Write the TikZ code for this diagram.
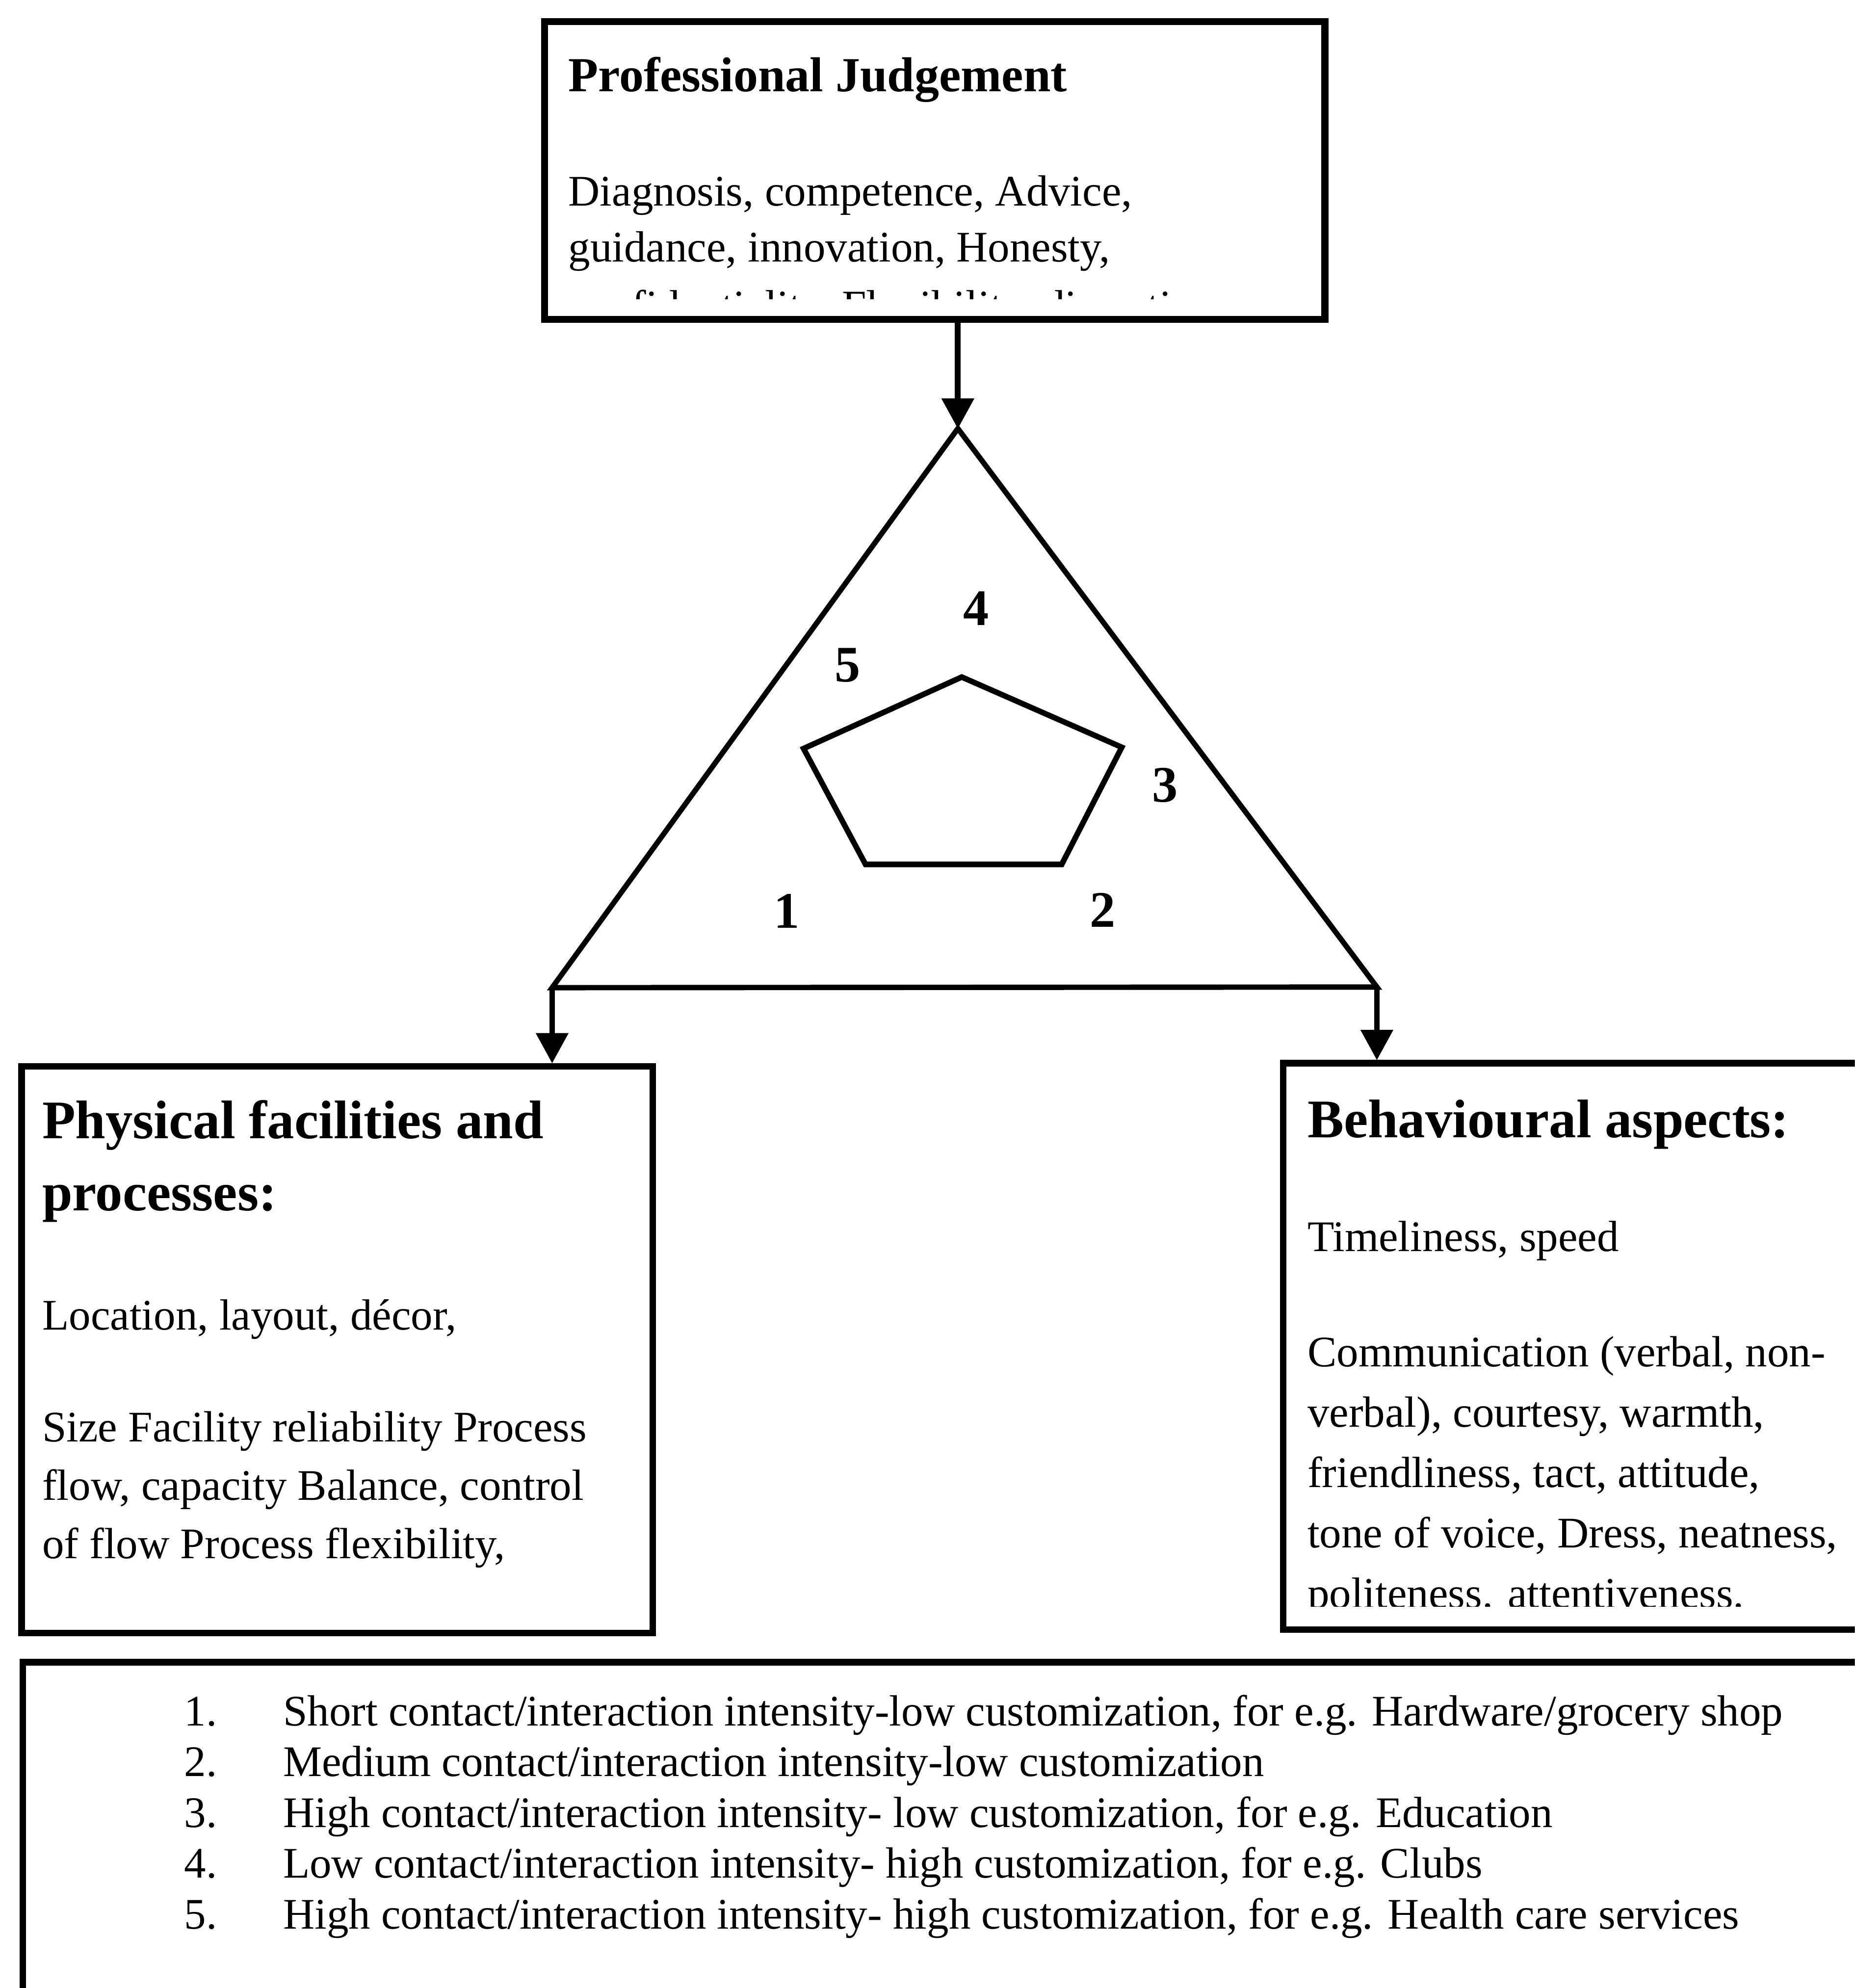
\documentclass[tikz,border=0pt]{standalone}
\usepackage{fontspec}
\setmainfont{Liberation Serif}
\usetikzlibrary{arrows.meta}

\begin{document}
\begin{tikzpicture}[
  x=0.02cm, y=-0.02cm,
  blk/.style={draw, line width=2.9pt, inner sep=0pt},
  body/.style={anchor=base west, inner sep=0pt, font=\fontsize{19.6}{25}\selectfont},
  head/.style={anchor=base west, inner sep=0pt, font=\bfseries\fontsize{24.4}{32.4}\selectfont},
  num/.style={inner sep=0pt, font=\bfseries\fontsize{23}{23}\selectfont},
  arr/.style={-{Triangle[length=13.5pt, width=14.8pt, line width=0pt]}, line width=2.6pt}]
\useasboundingbox (0,0) rectangle (1463,1568);
\clip (0,0) rectangle (1463,1568);

% boxes
\node[blk, line width=3.1pt, minimum width=12.31cm, minimum height=4.7cm] (judge) at (737.3,134.5) {};
\node[blk, minimum width=9.96cm, minimum height=8.94cm] (phys) at (266,1064.5) {};
\node[blk, minimum width=9.36cm, minimum height=8.94cm] (behav) at (1246,1062) {};
\node[blk, minimum width=29.24cm, minimum height=5.58cm] (legend) at (749,1450.5) {};

% triangle and pentagon
\coordinate (apex) at (755.5,338);
\coordinate (bl) at (435.5,779);
\coordinate (br) at (1086,778.5);
\draw[line width=2.4pt] (apex) -- (bl) -- (br) -- cycle;
\draw[line width=2.5pt] (758.6,534) -- (884.8,589.4) -- (837.4,681.8)
  -- (682.7,681.8) -- (633.8,590.4) -- cycle;
\node[num] (n1) at (620.5,718.7) {1};
\node[num] (n2) at (869.8,717.8) {2};
\node[num] (n3) at (918.7,619.2) {3};
\node[num] (n4) at (769.8,479.7) {4};
\node[num] (n5) at (668.4,524.6) {5};

\draw[arr] (judge.south -| apex) -- (apex);
\foreach \c/\b in {bl/phys, br/behav}
  \draw[arr] (\c) -- (\c |- \b.north);

% top box
\node[head, font=\bfseries\fontsize{22}{26}\selectfont] (jtitle) at (448,72) {Professional Judgement};
\node[body] (jtext) at (448,162.5) {\begin{tabular}[t]{@{}l@{}}
  Diagnosis, competence, Advice,\\ guidance, innovation, Honesty,\end{tabular}};
\begin{scope}
  \clip (440,222) rectangle (1040,236);
  \node[body] (jcut) at (448,253) {confidentiality, Flexibility, discretion};
\end{scope}

% left box
\node[head] (ptitle) at (33,898) {\begin{tabular}[t]{@{}l@{}}
  Physical facilities and\\ processes:\end{tabular}};
\node[body] (ptext1) at (33,1049) {Location, layout, décor,};
\node[body, font=\fontsize{19.6}{26.2}\selectfont] (ptext2) at (33,1137) {\begin{tabular}[t]{@{}l@{}}
  Size Facility reliability Process\\ flow, capacity Balance, control\\
  of flow Process flexibility,\end{tabular}};

% right box
\node[head] (btitle) at (1031,897) {Behavioural aspects:};
\node[body] (btext1) at (1031,987) {Timeliness, speed};
\begin{scope}
  \clip (1020,1000) rectangle (1470,1267);
  \node[body, font=\fontsize{19.6}{27.1}\selectfont] (btext2) at (1031,1078) {\begin{tabular}[t]{@{}l@{}}
    Communication (verbal, non-\\ verbal), courtesy, warmth,\\
    friendliness, tact, attitude,\\ tone of voice, Dress, neatness,\\
    politeness. attentiveness.\end{tabular}};
\end{scope}

% legend
\node[body, font=\fontsize{19.6}{22.8}\selectfont] (items) at (145,1361) {\begin{tabular}[t]{@{}p{1.56cm}@{}l@{}}
  1. & Short contact/interaction intensity-low customization, for e.g. Hardware/grocery shop\\
  2. & Medium contact/interaction intensity-low customization\\
  3. & High contact/interaction intensity- low customization, for e.g. Education\\
  4. & Low contact/interaction intensity- high customization, for e.g. Clubs\\
  5. & High contact/interaction intensity- high customization, for e.g. Health care services
\end{tabular}};
\end{tikzpicture}
\end{document}
